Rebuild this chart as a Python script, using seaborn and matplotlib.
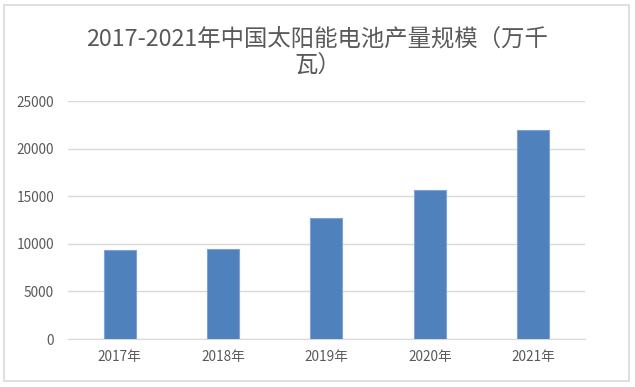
import matplotlib
matplotlib.use('Agg')
import matplotlib.pyplot as plt
import seaborn as sns
import pandas as pd
from matplotlib.patches import Rectangle

years = ['2017年', '2018年', '2019年', '2020年', '2021年']
output = [9354, 9490, 12750, 15620, 21930]
yticks = [0, 5000, 10000, 15000, 20000, 25000]

sns.set_style("white")
plt.rcParams['font.family'] = ['Noto Sans CJK SC', 'DejaVu Sans']

df = pd.DataFrame({'year': years, 'output': output})

fig = plt.figure(figsize=(6.35, 3.87), dpi=100)
ax = fig.add_axes([0.107, 0.124, 0.814, 0.615])

sns.barplot(data=df, x='year', y='output', color='#4f81bd', width=0.31,
            edgecolor='#7fa3d3', linewidth=0.8, saturation=1, ax=ax, zorder=3)

ax.set_ylim(0, 25000)
ax.set_yticks(yticks)
ax.set_yticklabels([str(v) for v in yticks])
ax.set_xlim(-0.5, 4.5)
ax.yaxis.grid(True, color='#d9d9d9', linewidth=1, zorder=0)
ax.set_axisbelow(True)
for s in ax.spines.values():
    s.set_visible(False)
ax.spines['bottom'].set_visible(True)
ax.spines['bottom'].set_color('#d9d9d9')
ax.tick_params(axis='both', length=0, labelsize=9.8, labelcolor='#595959', pad=8)
ax.tick_params(axis='y', pad=10)
ax.set_xlabel('')
ax.set_ylabel('')

fig.text(0.5, 0.864, '2017-2021年中国太阳能电池产量规模（万千\n瓦）', ha='center', va='center',
         fontsize=16.8, color='#595959', linespacing=1.2)

# outer chart border
fig.patches.append(Rectangle((4/635, 1-381/387), 625/635, 376/387, transform=fig.transFigure,
                             fill=False, edgecolor='#d9d9d9', linewidth=1.2))

fig.savefig('out.png', dpi=100)
